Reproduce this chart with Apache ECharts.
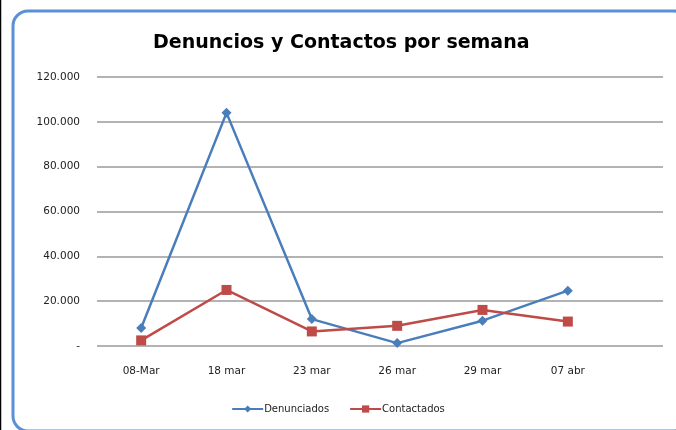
<!DOCTYPE html>
<html>
<head>
<meta charset="utf-8">
<script src="https://cdn.jsdelivr.net/npm/echarts@6/dist/echarts.min.js"></script>
<style>html,body{margin:0;padding:0;background:#fff;}#c{width:676px;height:430px;}</style>
</head>
<body>
<div id="c"></div>
<script>
const categories = ['08-Mar', '18 mar', '23 mar', '26 mar', '29 mar', '07 abr'];
const denunciados = [8000, 104000, 12000, 1300, 11300, 24700];
const contactados = [2500, 25000, 6500, 9000, 16100, 10900];
const yTicks = [0, 20000, 40000, 60000, 80000, 100000, 120000];
const titleText = 'Denuncios y Contactos por semana';

const chart = echarts.init(document.getElementById('c'));
function fmt(v) {
  if (v === 0) return '-';
  return String(v).replace(/\B(?=(\d{3})+(?!\d))/g, '.');
}
const yMin = yTicks[0], yMax = yTicks[yTicks.length - 1], yInt = yTicks[1] - yTicks[0];
const font = '"DejaVu Sans", sans-serif';
chart.setOption({
  animation: false,
  title: {
    text: titleText, left: 148, top: 29,
    textStyle: { fontFamily: font, fontSize: 19, fontWeight: 'bold', color: '#000' }
  },
  legend: {
    bottom: 11, left: 'center', itemWidth: 31, itemHeight: 9, itemGap: 20,
    textStyle: { fontFamily: font, fontSize: 10, color: '#222', padding: [0, 0, 0, -4] }
  },
  graphic: [
    { type: 'rect', shape: { x: 13, y: 11, width: 676, height: 420, r: 15 },
      style: { fill: 'none', stroke: '#5b8fd6', lineWidth: 3 }, z: 10 },
    { type: 'line', shape: { x1: 0.5, y1: 0, x2: 0.5, y2: 430 },
      style: { stroke: '#000', lineWidth: 1.5 }, z: 10 }
  ],
  grid: [
    { left: 97, top: 77, width: 566, height: 269 },
    { left: 98.5, top: 77, width: 512, height: 269 }
  ],
  xAxis: [
    { gridIndex: 0, type: 'category', data: categories, show: false },
    { gridIndex: 1, type: 'category', data: categories, boundaryGap: true,
      axisLine: { show: false }, axisTick: { show: false },
      axisLabel: { margin: 20, fontFamily: font, fontSize: 10.5, color: '#222' } }
  ],
  yAxis: [
    { gridIndex: 0, type: 'value', min: yMin, max: yMax, interval: yInt,
      axisLine: { show: false }, axisTick: { show: false },
      axisLabel: { margin: 17, fontFamily: font, fontSize: 10.5, color: '#222', formatter: fmt },
      splitLine: { lineStyle: { color: '#9a9a9a', width: 1.5 } } },
    { gridIndex: 1, type: 'value', min: yMin, max: yMax, interval: yInt, show: false,
      splitLine: { show: false } }
  ],
  series: [
    { name: 'Denunciados', type: 'line', xAxisIndex: 1, yAxisIndex: 1, data: denunciados,
      symbol: 'diamond', symbolSize: 10,
      lineStyle: { color: '#4a7ebb', width: 2.5 }, itemStyle: { color: '#4a7ebb' } },
    { name: 'Contactados', type: 'line', xAxisIndex: 1, yAxisIndex: 1, data: contactados,
      symbol: 'rect', symbolSize: 10,
      lineStyle: { color: '#be4b48', width: 2.5 }, itemStyle: { color: '#be4b48' } }
  ]
});
</script>
</body>
</html>
